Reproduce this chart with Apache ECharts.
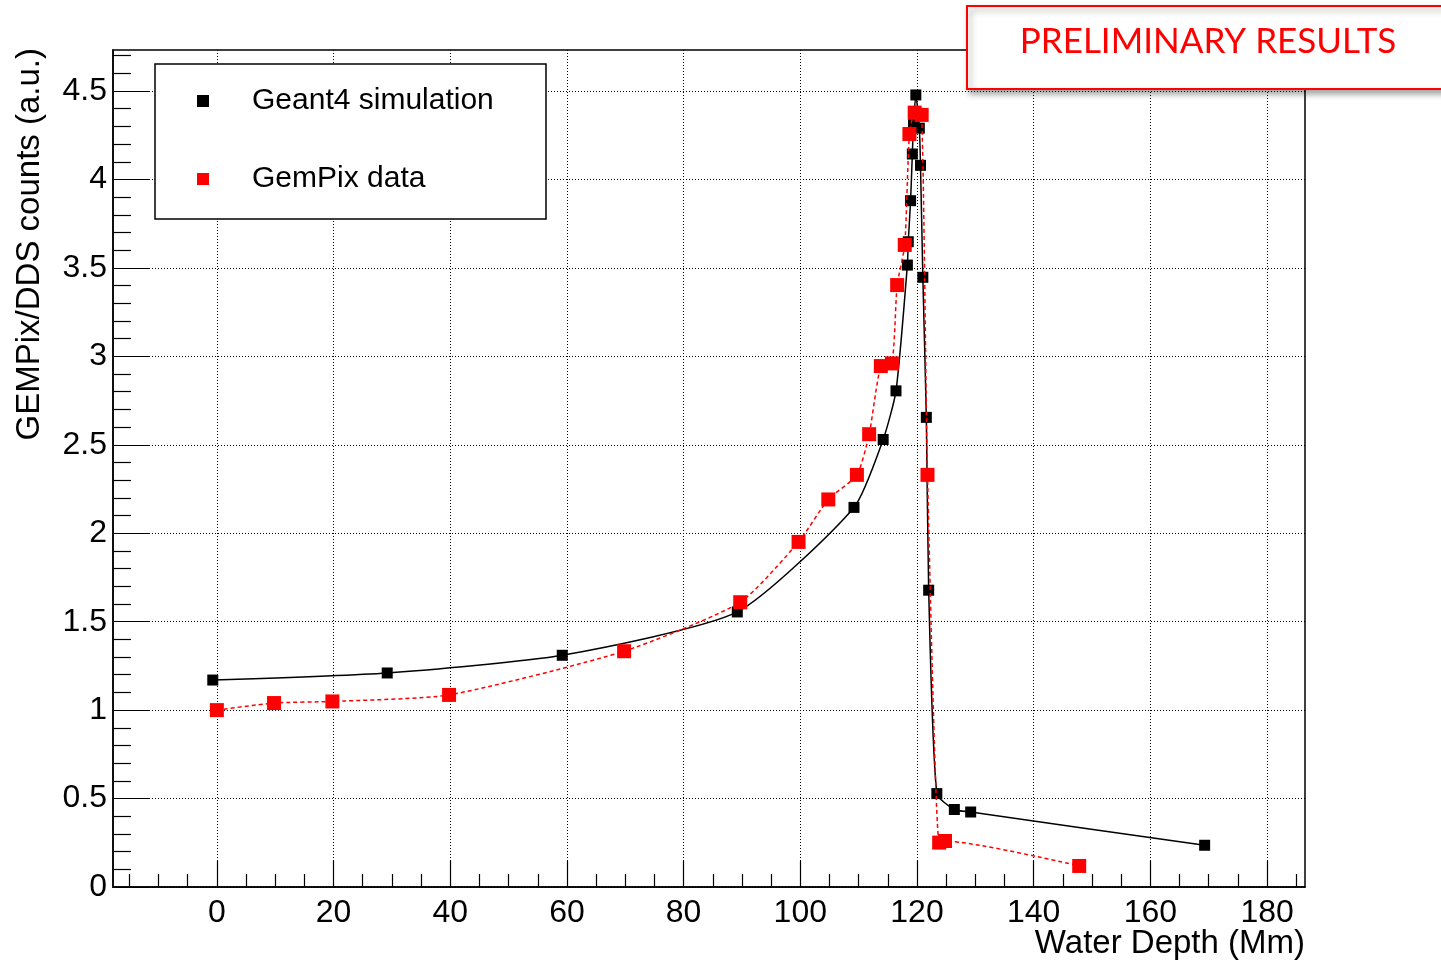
<!DOCTYPE html>
<html><head><meta charset="utf-8">
<script src="https://cdn.jsdelivr.net/npm/echarts@6/dist/echarts.min.js"></script>
<style>html,body{margin:0;padding:0;background:#fff}#c{width:1441px;height:963px}</style>
</head><body><div id="c"></div>
<script>
// Geant4 simulation (black)
const geant4X = [-0.7, 29.2, 59.2, 89.2, 109.2, 114.2, 116.4, 118.35, 118.5, 118.9, 119.2, 119.4, 119.8, 120.4, 120.6, 121.0, 121.6, 122.0, 123.4, 126.4, 129.2, 169.3];
const geant4Y = [1.17, 1.21, 1.31, 1.555, 2.146, 2.53, 2.805, 3.516, 3.648, 3.88, 4.144, 4.31, 4.478, 4.29, 4.08, 3.447, 2.655, 1.678, 0.528, 0.438, 0.424, 0.236];
// GemPix data (red)
const gempixX = [0, 9.8, 19.8, 39.8, 69.8, 89.7, 99.7, 104.8, 109.7, 111.8, 113.8, 115.7, 116.6, 117.9, 118.7, 119.6, 120.8, 121.8, 123.8, 124.8, 147.8];
const gempixY = [1.0, 1.04, 1.049, 1.086, 1.333, 1.61, 1.951, 2.191, 2.33, 2.56, 2.945, 2.96, 3.403, 3.63, 4.257, 4.378, 4.365, 2.33, 0.251, 0.26, 0.119];

const seriesNames = ['Geant4 simulation', 'GemPix data'];
const xTickLabels = [0, 20, 40, 60, 80, 100, 120, 140, 160, 180];
const yTickLabels = [0, 0.5, 1, 1.5, 2, 2.5, 3, 3.5, 4, 4.5];
const xMinorTicks = [];
for (let v = -15; v <= 185; v += 5) if (v % 20 !== 0) xMinorTicks.push(v);
const yMinorTicks = [];
for (let i = 1; i <= 47; i++) if (i % 5 !== 0) yMinorTicks.push(i / 10);

const xTitle = 'Water Depth (Mm)';
const yTitle = 'GEMPix/DDS counts (a.u.)';
const stamp = 'PRELIMINARY RESULTS';

const FONT = '"Liberation Sans", Arial, Helvetica, sans-serif';
const zip = (xs, ys) => xs.map((x, i) => [x, ys[i]]);

const chart = echarts.init(document.getElementById('c'), null, {renderer: 'canvas'});
const XMIN = -17.8, XMAX = 186.5, YMIN = 0, YMAX = 4.732;

chart.setOption({
  animation: false,
  backgroundColor: '#fff',
  grid: {left: 113, top: 50, width: 1192, height: 837, show: true, borderColor: '#000', borderWidth: 1.5, backgroundColor: 'transparent', containLabel: false, outerBoundsMode: 'none'},
  xAxis: [
    {type: 'value', min: XMIN, max: XMAX, position: 'bottom',
     axisLine: {show: true, onZero: false, lineStyle: {color: '#000', width: 1.5}},
     axisTick: {show: true, inside: true, length: 26, customValues: xTickLabels, lineStyle: {color: '#000', width: 1.2}},
     axisLabel: {show: true, customValues: xTickLabels, margin: 10, fontFamily: FONT, fontSize: 32, color: '#000'},
     splitLine: {show: true, lineStyle: {color: '#000', width: 1, type: [1, 2]}}},
    {type: 'value', min: XMIN, max: XMAX, position: 'bottom',
     axisLine: {show: false, onZero: false},
     axisTick: {show: true, inside: true, length: 13, customValues: xMinorTicks, lineStyle: {color: '#000', width: 1.2}},
     axisLabel: {show: false, customValues: xMinorTicks},
     splitLine: {show: false}}
  ],
  yAxis: [
    {type: 'value', min: YMIN, max: YMAX, position: 'left',
     axisLine: {show: true, onZero: false, lineStyle: {color: '#000', width: 1.5}},
     axisTick: {show: true, inside: true, length: 37, customValues: yTickLabels, lineStyle: {color: '#000', width: 1.2}},
     axisLabel: {show: true, customValues: yTickLabels, margin: 6, fontFamily: FONT, fontSize: 32, color: '#000'},
     splitLine: {show: true, lineStyle: {color: '#000', width: 1, type: [1, 2]}}},
    {type: 'value', min: YMIN, max: YMAX, position: 'left',
     axisLine: {show: false, onZero: false},
     axisTick: {show: true, inside: true, length: 18, customValues: yMinorTicks, lineStyle: {color: '#000', width: 1.2}},
     axisLabel: {show: false, customValues: yMinorTicks},
     splitLine: {show: false}}
  ],
  legend: {
    left: 155, top: 64, orient: 'vertical', icon: 'rect',
    itemWidth: 12, itemHeight: 12, itemGap: 42,
    padding: [19, 34, 22, 42],
    borderColor: '#000', borderWidth: 1.5, backgroundColor: '#fff',
    textStyle: {fontFamily: FONT, fontSize: 30, color: '#000', width: 260, lineHeight: 26, padding: [10, 0, 0, 38]},
    data: seriesNames
  },
  series: [
    {name: seriesNames[0], type: 'line', xAxisIndex: 0, yAxisIndex: 0,
     data: zip(geant4X, geant4Y), symbol: 'rect', symbolSize: 11,
     smooth: 0.2,
     itemStyle: {color: '#000'}, lineStyle: {color: '#000', width: 1.5}, z: 3},
    {name: seriesNames[1], type: 'line', xAxisIndex: 0, yAxisIndex: 0,
     data: zip(gempixX, gempixY), symbol: 'rect', symbolSize: 14,
     smooth: 0.2,
     itemStyle: {color: '#ff0000'}, lineStyle: {color: '#ff0000', width: 1.5, type: [4, 3]}, z: 4}
  ],
  graphic: [
    {type: 'text', x: 30, y: 48, rotation: Math.PI / 2, z: 10,
     style: {text: yTitle, fontFamily: FONT, fontSize: 33, fill: '#000', align: 'right', verticalAlign: 'middle'}},
    {type: 'text', x: 1305, y: 944, z: 10,
     style: {text: xTitle, fontFamily: FONT, fontSize: 33, fill: '#000', align: 'right', verticalAlign: 'middle'}},
    {type: 'rect', z: 100, shape: {x: 967, y: 6, width: 480, height: 83},
     style: {fill: '#fff', stroke: '#ff0000', lineWidth: 2, shadowBlur: 6, shadowOffsetX: 3, shadowOffsetY: 4, shadowColor: 'rgba(0,0,0,0.35)'}},
    {type: 'text', z: 101, x: 1208, y: 42,
     style: {text: stamp, fontFamily: 'Lato, "Open Sans", sans-serif', fontSize: 35, fill: '#ff0000', align: 'center', verticalAlign: 'middle'}}
  ]
});
</script>
</body></html>
